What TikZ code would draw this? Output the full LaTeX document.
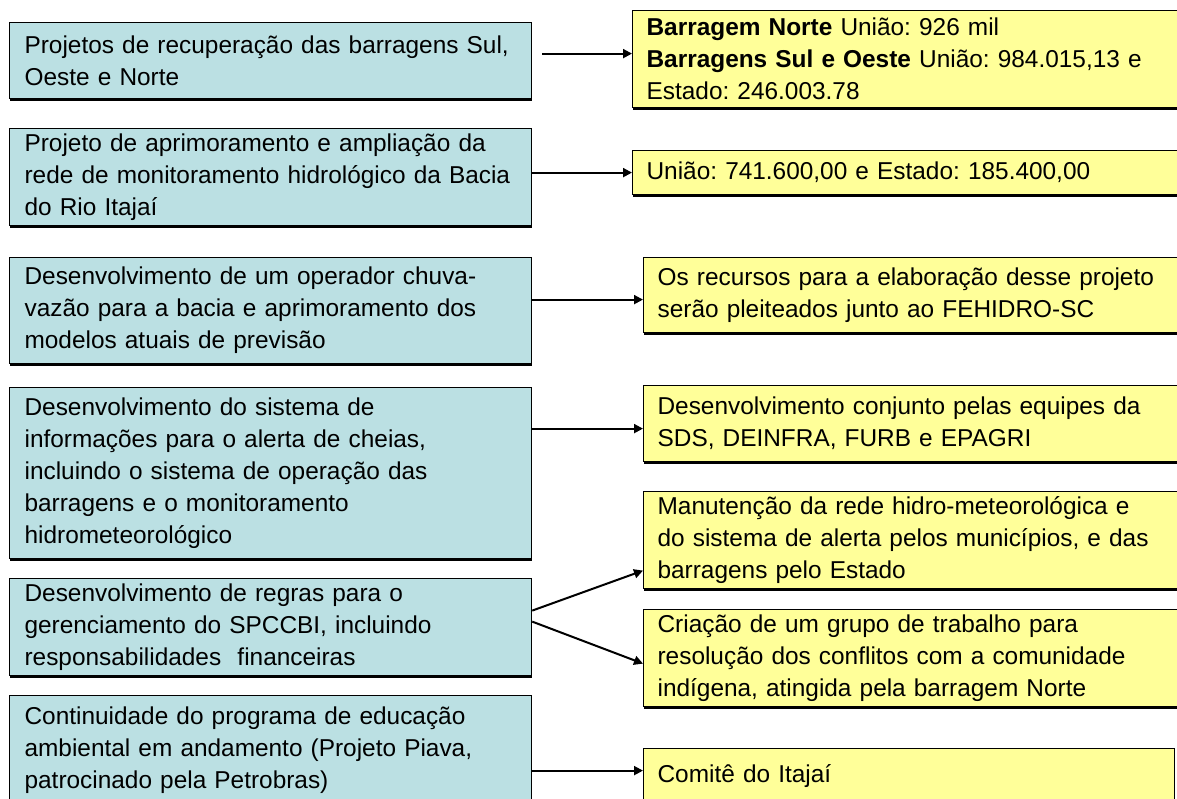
\documentclass[tikz,border=0pt]{standalone}
\usepackage{fontspec}
\setmainfont{Liberation Sans}
\usetikzlibrary{arrows.meta,shadows}
\definecolor{acaofill}{RGB}{187,224,227}
\definecolor{fontefill}{RGB}{255,255,153}
\frenchspacing

\begin{document}
\begin{tikzpicture}[>={Triangle[length=4.5pt,width=4.5pt]},x=0.5pt,y=-0.5pt,
  font=\fontsize{12.2}{16}\selectfont,
  caixa/.style={draw,line width=0.6pt,anchor=north west,align=left,inner ysep=0pt,
    execute at begin node={\hyphenpenalty=10000},
    drop shadow={shadow xshift=0pt,shadow yshift=-1.1pt,fill=black,opacity=1}},
  acao/.style={caixa,fill=acaofill,text width=246pt,inner xsep=7.5pt,minimum height=#1},
  fonte/.style={caixa,fill=fontefill,text width=259.5pt,inner xsep=7pt,minimum height=#1},
  seta/.style={->,line width=1pt}]

\useasboundingbox (0,0) rectangle (1177,798);
\clip (0,0) rectangle (1177,798);

\node[acao=38pt] (a1) at (9,22) {Projetos de recuperação das barragens Sul,\\Oeste e Norte};
\node[acao=48.5pt] (a2) at (9,128) {Projeto de aprimoramento e ampliação da\\rede de monitoramento hidrológico da Bacia\\do Rio Itajaí};
\node[acao=53pt] (a3) at (9,257) {Desenvolvimento de um operador chuva-\\vazão para a bacia e aprimoramento dos\\modelos atuais de previsão};
\node[acao=85.5pt] (a4) at (9,387) {Desenvolvimento do sistema de\\informações para o alerta de cheias,\\incluindo o sistema de operação das\\barragens e o monitoramento\\hidrometeorológico};
\node[acao=48.5pt] (a5) at (9,578) {Desenvolvimento de regras para o\\gerenciamento do SPCCBI, incluindo\\responsabilidades\ \ financeiras};
\node[acao=54.5pt] (a6) at (9,695) {Continuidade do programa de educação\\ambiental em andamento (Projeto Piava,\\patrocinado pela Petrobras)};

\node[fonte=48.5pt,text width=265pt] (f1) at (632,10) {\textbf{Barragem Norte} União: 926 mil\\\textbf{Barragens Sul e Oeste} União: 984.015,13 e\\Estado: 246.003.78};
\node[fonte=22pt,text width=265pt] (f2) at (632,150) {União: 741.600,00 e Estado: 185.400,00};
\node[fonte=37.5pt] (f3) at (643,257) {Os recursos para a elaboração desse projeto\\serão pleiteados junto ao FEHIDRO-SC};
\node[fonte=38pt] (f4) at (643,385) {Desenvolvimento conjunto pelas equipes da\\SDS, DEINFRA, FURB e EPAGRI};
\node[fonte=48.5pt] (f5) at (643,491) {Manutenção da rede hidro-meteorológica e\\do sistema de alerta pelos municípios, e das\\barragens pelo Estado};
\node[fonte=48.5pt] (f6) at (643,609) {Criação de um grupo de trabalho para\\resolução dos conflitos com a comunidade\\indígena, atingida pela barragem Norte};
\node[fonte=27pt,text width=251.5pt] (f7) at (643,748) {Comitê do Itajaí};

\draw[seta,shorten <=5pt] ([yshift=3.5pt]a1.east) -- ([yshift=2.75pt]f1.west);
\draw[seta] (a2.east |- f2.west) -- (f2.west);
\draw[seta] ([yshift=5.5pt]a3.east) -- ([yshift=-2.25pt]f3.west);
\draw[seta] ([yshift=22.25pt]a4.east) -- ([yshift=-2.5pt]f4.west);
\draw[seta] ([yshift=8.25pt]a5.east) -- ([yshift=-15.25pt]f5.west);
\draw[seta] ([yshift=2.75pt]a5.east) -- ([yshift=-2.75pt]f6.west);
\draw[seta] ([yshift=-10.25pt]a6.east) -- ([yshift=2.5pt]f7.west);

\end{tikzpicture}
\end{document}
